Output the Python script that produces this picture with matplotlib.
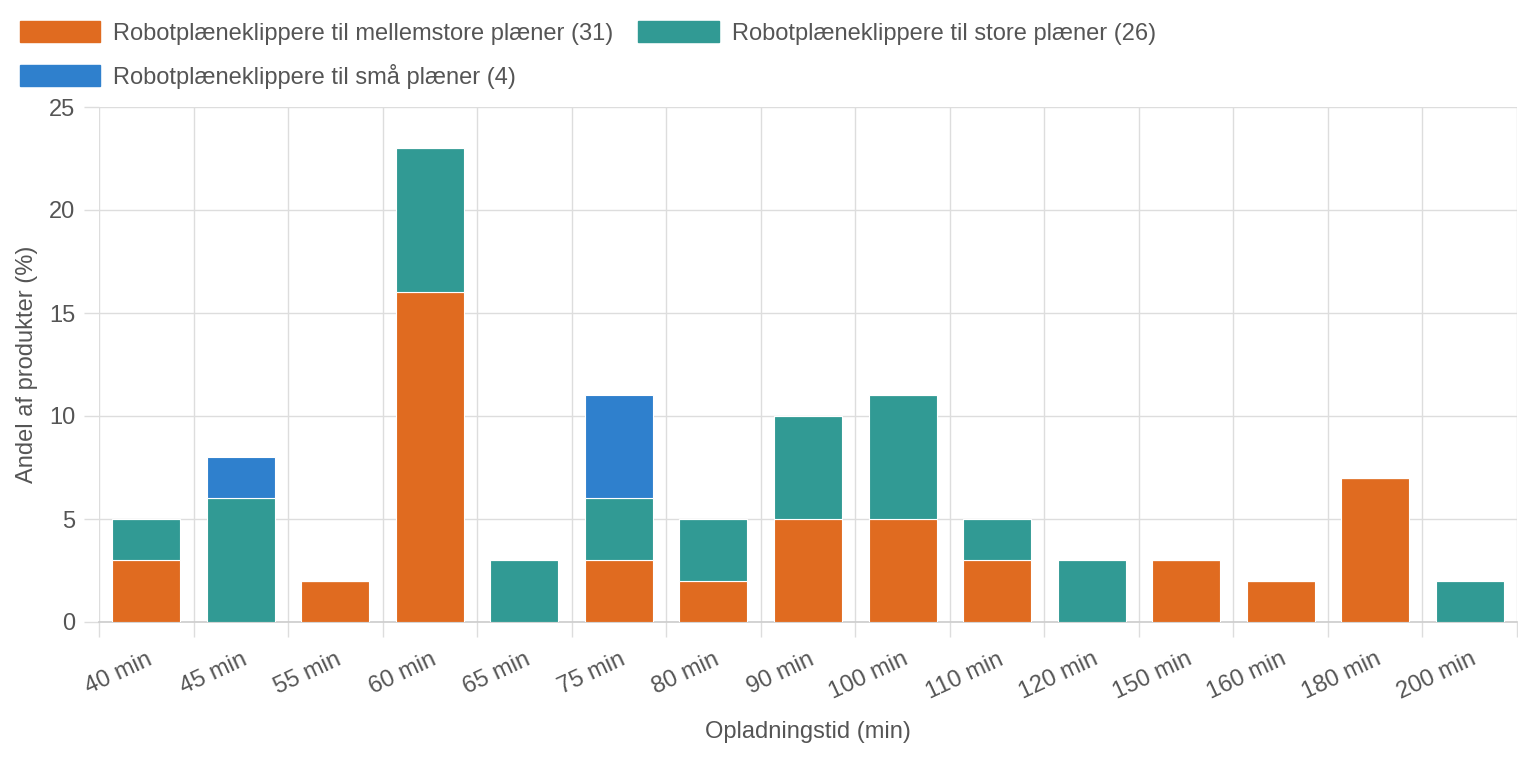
import numpy as np
import matplotlib.pyplot as plt
from matplotlib.patches import Patch

plt.rcParams['font.family'] = ['Liberation Sans', 'DejaVu Sans']

categories = ["40 min", "45 min", "55 min", "60 min", "65 min", "75 min", "80 min", "90 min",
              "100 min", "110 min", "120 min", "150 min", "160 min", "180 min", "200 min"]
medium = [3, 0, 2, 16, 0, 3, 2, 5, 5, 3, 0, 3, 2, 7, 0]
large = [2, 6, 0, 7, 3, 3, 3, 5, 6, 2, 3, 0, 0, 0, 2]
small = [0, 2, 0, 0, 0, 5, 0, 0, 0, 0, 0, 0, 0, 0, 0]

labels = ["Robotplæneklippere til mellemstore plæner (31)",
          "Robotplæneklippere til store plæner (26)",
          "Robotplæneklippere til små plæner (4)"]
colors = ["#E06B20", "#319A94", "#2F80CD"]
fs = 17

fig = plt.figure(figsize=(15.18, 7.58), dpi=100)
ax = fig.add_axes([99 / 1518, 1 - 622 / 758, (1517 - 99) / 1518, (622 - 107) / 758])

x = np.arange(len(categories))
w = 0.72
m = np.array(medium)
l = np.array(large)
s = np.array(small)
ax.bar(x, m, w, color=colors[0], edgecolor="white", linewidth=0.8, zorder=3)
ax.bar(x, l, w, bottom=m, color=colors[1], edgecolor="white", linewidth=0.8, zorder=3)
ax.bar(x, s, w, bottom=m + l, color=colors[2], edgecolor="white", linewidth=0.8, zorder=3)

ax.set_xlim(-0.5, len(categories) - 0.5)
ax.set_ylim(0, 25)
ax.set_yticks([0, 5, 10, 15, 20, 25])

ax.set_xticks(x)
ax.set_xticklabels(categories, rotation=25, ha="right", rotation_mode="anchor")
ax.set_xticks(np.arange(-0.5, len(categories), 1), minor=True)
ax.tick_params(axis="x", which="major", length=0, pad=19, labelsize=fs, labelcolor="#555555")
ax.tick_params(axis="x", which="minor", length=11, color="#dddddd", width=1)
ax.tick_params(axis="y", length=11, color="#dddddd", width=1, pad=6, labelsize=fs,
               labelcolor="#555555")
for t in ax.get_xticklabels():
    t.set_x(t.get_position()[0])

ax.grid(axis="x", which="minor", color="#dddddd", linewidth=1, zorder=0)
ax.grid(axis="y", which="major", color="#dddddd", linewidth=1, zorder=0)
for sp in ["left", "right", "top"]:
    ax.spines[sp].set_visible(False)
ax.spines["bottom"].set_color("#cccccc")
ax.spines["bottom"].set_linewidth(1.2)

ax.set_ylabel("Andel af produkter (%)", fontsize=fs, color="#555555", labelpad=8)
ax.set_xlabel("Opladningstid (min)", fontsize=fs, color="#555555", labelpad=12)

handles = [Patch(color=colors[0]), Patch(color=colors[2]), Patch(color=colors[1])]
fig.legend(handles, [labels[0], labels[2], labels[1]], ncol=2, loc="upper left",
           bbox_to_anchor=(20 / 1518, 1 - 21 / 758), frameon=False, fontsize=fs,
           handlelength=3.4, handleheight=1.0, handletextpad=0.55, columnspacing=1.05,
           labelspacing=0.8, borderpad=0, borderaxespad=0, labelcolor="#555555")

fig.savefig("out.png", dpi=100)
